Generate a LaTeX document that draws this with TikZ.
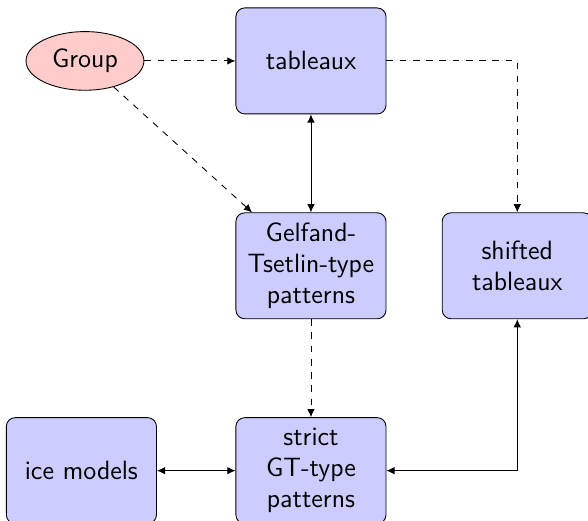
\documentclass[tikz,border=0pt]{standalone}
\usepackage{tikz}
\usetikzlibrary{arrows.meta, positioning, shapes.geometric}

\begin{document}
\begin{tikzpicture}[node distance=1.56cm, every node/.style={font=\sffamily\large},
    block/.style={draw, fill=blue!20, rounded corners, text width=60pt, inner sep=4pt, align=center, minimum height=48pt},
    cloud/.style={draw, ellipse, fill=red!20, inner sep=4pt, minimum height=24pt},
    tip/.style={-{Latex[length=1.3mm, width=1.2mm]}},
    both/.style={{Latex[length=1.3mm, width=1.2mm]}-{Latex[length=1.3mm, width=1.2mm]}}]
      \useasboundingbox (-4.95,0.97) rectangle (4.41,-7.32);
      \node[block] (tab) at (0,0) {tableaux};
      \node[cloud, left=1.45cm of tab] (grp) {Group};
      \node[block, below=of tab] (gt) {Gelfand-Tsetlin-type patterns};
      \node[block, right=0.88cm of gt] (shift) {shifted tableaux};
      \node[block, below=of gt] (sgt) {strict GT-type patterns};
      \node[block, left=1.25cm of sgt] (ice) {ice models};
      \draw[tip, dashed] (grp) -- (tab);
      \draw[tip, dashed] (grp) -- (gt);
      \draw[both] (tab) -- (gt);
      \draw[tip, dashed] (tab) -| (shift);
      \draw[tip, dashed] (gt) -- (sgt);
      \draw[both] (shift) |- (sgt);
      \draw[both] (ice) -- (sgt);
    \end{tikzpicture}
\end{document}
